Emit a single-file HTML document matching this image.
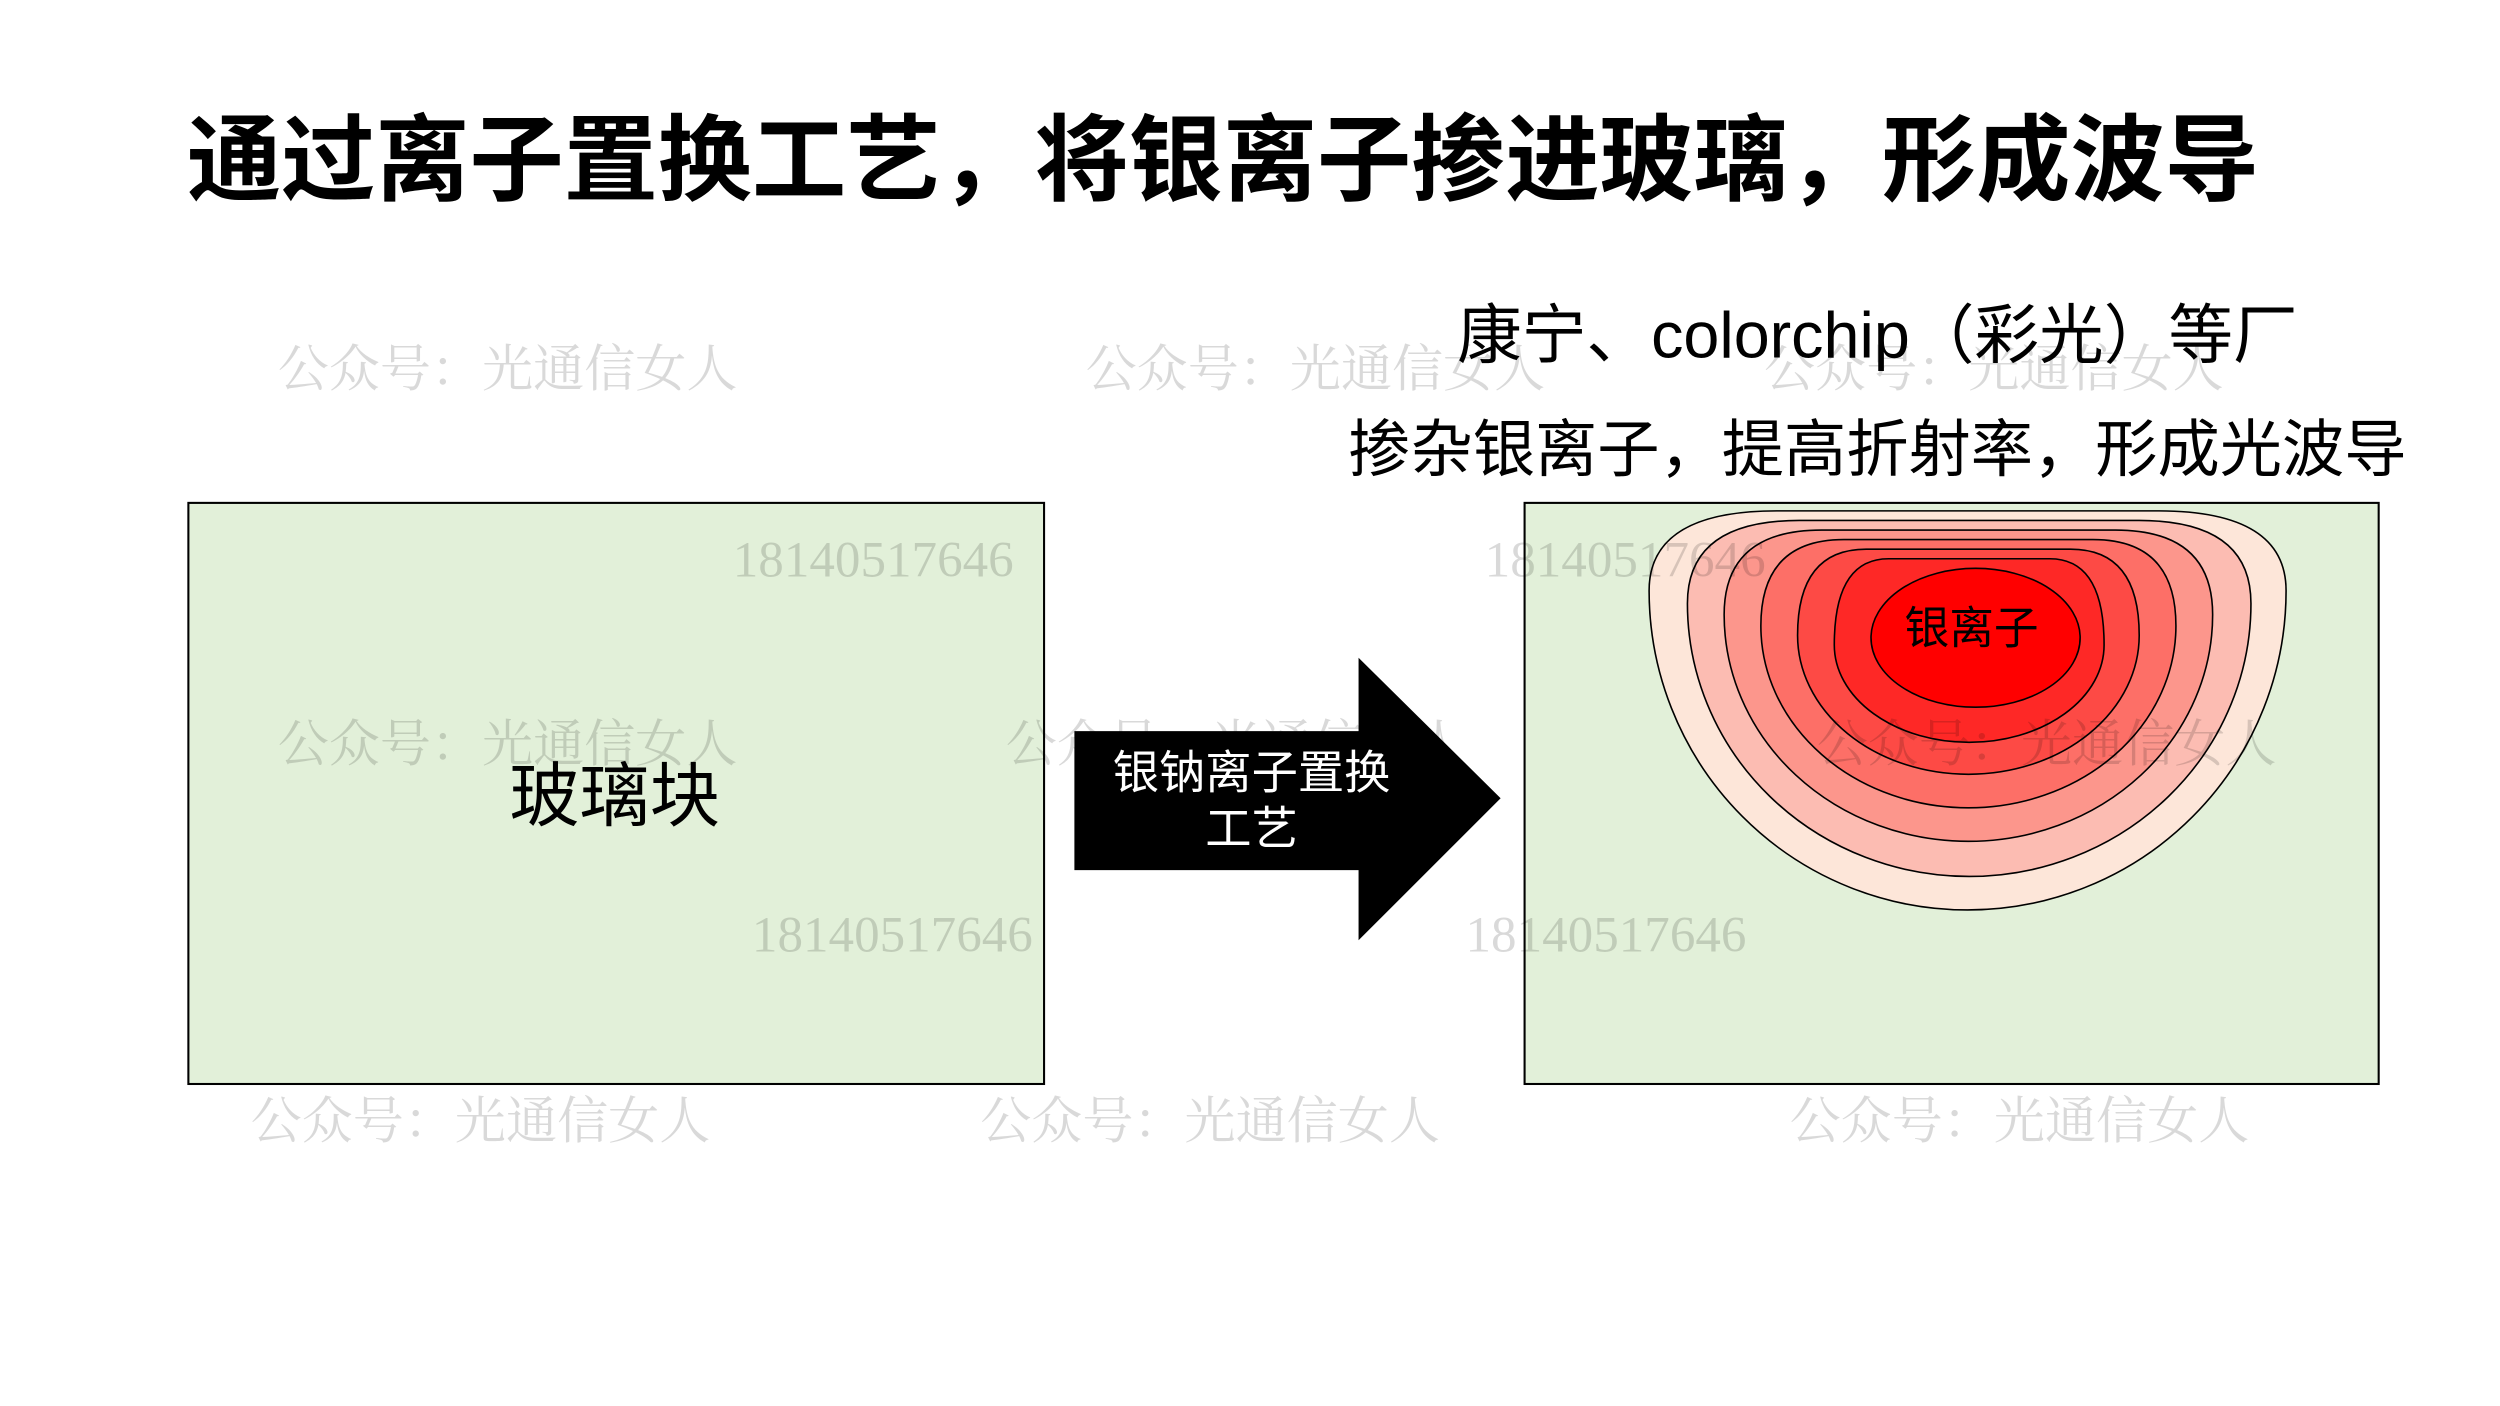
<!DOCTYPE html>
<html><head><meta charset="utf-8"><style>
html,body{margin:0;padding:0;background:#fff;width:2500px;height:1406px;overflow:hidden}
svg{display:block}
text{font-family:"Liberation Sans","Noto Sans CJK SC",sans-serif}
.wm{font-family:"Liberation Serif","Noto Serif CJK SC",serif;fill:#000;fill-opacity:0.15;font-size:32px}
</style></head><body>
<svg width="2500" height="1406" viewBox="0 0 1566 880.7" xmlns="http://www.w3.org/2000/svg">
<text x="766" y="121" text-anchor="middle" font-size="59" font-weight="bold" fill="#000">通过离子置换工艺，将银离子掺进玻璃，形成波导</text>

<rect x="118" y="315" width="536" height="364" fill="#e2f0d9" stroke="#000" stroke-width="1.3"/>
<rect x="955" y="315" width="535" height="364" fill="#e2f0d9" stroke="#000" stroke-width="1.3"/>

<text x="385" y="514" text-anchor="middle" font-size="44" fill="#000">玻璃块</text>

<g stroke="#000" stroke-width="1">
<path d="M1033,370 Q1033,320 1113,320 L1352,320 Q1432,320 1432,370 A199.5,200 0 0 1 1033,370 Z" fill="#fde6d9"/>
<path d="M1057,378 Q1057,326 1127,326 L1340,326 Q1410,326 1410,378 A176.5,171 0 0 1 1057,378 Z" fill="#fcbcb2"/>
<path d="M1080,385 Q1080,332 1141,332 L1325,332 Q1386,332 1386,385 A153,142 0 0 1 1080,385 Z" fill="#fc968c"/>
<path d="M1103,392 Q1103,338 1155,338 L1311,338 Q1363,338 1363,392 A130,114 0 0 1 1103,392 Z" fill="#fd6f67"/>
<path d="M1126,398 Q1126,344 1169,344 L1297,344 Q1340,344 1340,398 A107,87 0 0 1 1126,398 Z" fill="#fd4a45"/>
<path d="M1149,404 Q1149,350 1183,350 L1284,350 Q1318,350 1318,404 A84.5,61 0 0 1 1149,404 Z" fill="#fe2826"/>
<ellipse cx="1237.5" cy="399.5" rx="65.5" ry="43.5" fill="#ff0000"/>
</g>
<text x="1235" y="403" text-anchor="middle" font-size="28" fill="#000">银离子</text>

<text class="wm" x="174" y="242">公众号：光通信女人</text>
<text class="wm" x="680" y="242">公众号：光通信女人</text>
<text class="wm" x="1105" y="242">公众号：光通信女人</text>
<text class="wm" x="174" y="477">公众号：光通信女人</text>
<text class="wm" x="630" y="477">公众号：光通信女人</text>
<text class="wm" x="471" y="596">18140517646</text>
<text class="wm" x="918" y="596">18140517646</text>
<text class="wm" x="157" y="713">公众号：光通信女人</text>
<text class="wm" x="614" y="713">公众号：光通信女人</text>
<text class="wm" x="1121" y="713">公众号：光通信女人</text>
<text class="wm" x="459" y="361">18140517646</text>
<text class="wm" x="930" y="361">18140517646</text>
<text class="wm" x="1138" y="477">公众号：光通信女人</text>

<text x="1176" y="224" text-anchor="middle" font-size="40.5" fill="#000">康宁、colorchip（彩光）等厂</text>
<text x="1176" y="295" text-anchor="middle" font-size="39" fill="#000">掺杂银离子，提高折射率，形成光波导</text>

<polygon points="673,458 851,458 851,412 940,500 851,589 851,545 673,545" fill="#000"/>
<text x="784" y="494" text-anchor="middle" font-size="29" fill="#fff">银钠离子置换</text>
<text x="784" y="529" text-anchor="middle" font-size="29" fill="#fff">工艺</text>
</svg>
</body></html>
